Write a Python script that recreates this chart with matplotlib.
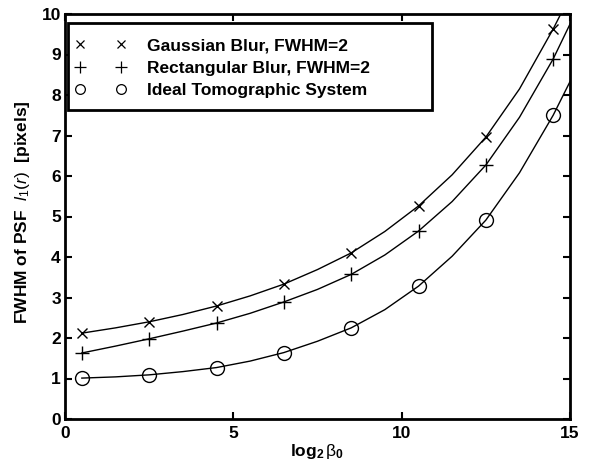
import matplotlib
matplotlib.use("Agg")
import matplotlib.pyplot as plt
from matplotlib.lines import Line2D
from matplotlib.patches import Rectangle

plt.rcParams['font.family'] = ['Liberation Sans', 'DejaVu Sans']
plt.rcParams['mathtext.fontset'] = 'custom'
plt.rcParams['mathtext.rm'] = 'Liberation Sans'
plt.rcParams['mathtext.it'] = 'Liberation Sans:italic'
plt.rcParams['mathtext.bf'] = 'Liberation Sans:bold'

# marker data
x_markers = [0.5, 2.5, 4.5, 6.5, 8.5, 10.5, 12.5, 14.5]
gauss_markers = [2.12, 2.40, 2.79, 3.33, 4.10, 5.26, 6.96, 9.63]
rect_markers = [1.63, 1.98, 2.37, 2.89, 3.57, 4.64, 6.27, 8.89]
ideal_markers = [1.01, 1.09, 1.27, 1.64, 2.25, 3.28, 4.91, 7.50]

# fitted curves
x_curve = [0.5, 1.5, 2.5, 3.5, 4.5, 5.5, 6.5, 7.5, 8.5, 9.5, 10.5, 11.5, 12.5, 13.5, 14.5, 15.0]
gauss_curve = [2.12, 2.25, 2.40, 2.58, 2.79, 3.04, 3.33, 3.69, 4.10, 4.63, 5.26, 6.03, 6.96, 8.15, 9.63, 10.45]
rect_curve = [1.63, 1.80, 1.98, 2.17, 2.37, 2.61, 2.89, 3.20, 3.57, 4.05, 4.64, 5.37, 6.27, 7.45, 8.89, 9.75]
ideal_curve = [1.01, 1.04, 1.09, 1.17, 1.27, 1.43, 1.64, 1.92, 2.25, 2.70, 3.28, 4.02, 4.91, 6.08, 7.50, 8.33]

labels = ['Gaussian Blur, FWHM=2', 'Rectangular Blur, FWHM=2', 'Ideal Tomographic System']
x_ticks = [0, 5, 10, 15]
y_ticks = list(range(0, 11))

FS = 12.5
fig = plt.figure(figsize=(5.92, 4.68), dpi=100)
ax = fig.add_axes([65/592, 49/468, 505/592, 405/468])

for yc in (gauss_curve, rect_curve, ideal_curve):
    ax.plot(x_curve, yc, color='black', lw=1.0)

ax.plot(x_markers, gauss_markers, linestyle='none', marker='x', ms=7, mew=1.0, color='black')
ax.plot(x_markers, rect_markers, linestyle='none', marker='+', ms=10, mew=1.0, color='black')
ax.plot(x_markers, ideal_markers, linestyle='none', marker='o', ms=10, mew=1.0,
        mfc='none', mec='black')

ax.set_xlim(0, 15)
ax.set_ylim(0, 10)
ax.set_xticks(x_ticks)
ax.set_yticks(y_ticks)
ax.tick_params(direction='in', length=5, width=1.5, top=True, right=True,
               labelsize=FS, pad=3)
ax.tick_params(axis='x', pad=5)
for lab in ax.get_xticklabels() + ax.get_yticklabels():
    lab.set_fontweight('bold')
for s in ax.spines.values():
    s.set_linewidth(2)

ax.set_xlabel(r'log$_\mathbf{2}\,\mathrm{β}_\mathbf{0}$', fontsize=FS, fontweight='bold', labelpad=1)
ax.set_ylabel(r'FWHM of PSF  $\mathit{l_1(r)}$  [pixels]', fontsize=FS, fontweight='bold', labelpad=0)
ax.yaxis.set_label_coords(-33/505, 0.51)

# legend frame
ax.add_patch(Rectangle((3/505, (419-110)/405), 364/505, 87/405, transform=ax.transAxes,
                       facecolor='white', edgecolor='black', lw=2, zorder=4))

handles = [
    Line2D([], [], linestyle='none', marker='x', ms=6, mew=0.9, color='black'),
    Line2D([], [], linestyle='none', marker='+', ms=8, mew=0.9, color='black'),
    Line2D([], [], linestyle='none', marker='o', ms=7, mew=0.9, mfc='none', mec='black'),
]
leg = ax.legend(handles, labels, loc='upper left', numpoints=2, handlelength=2.95,
                handletextpad=1.18, labelspacing=0.42, borderpad=0, borderaxespad=0,
                bbox_to_anchor=(10/505, 1 - (38-14)/405), frameon=False,
                prop={'weight': 'bold', 'size': FS})
leg.set_zorder(5)

fig.savefig('out.png', dpi=100)
